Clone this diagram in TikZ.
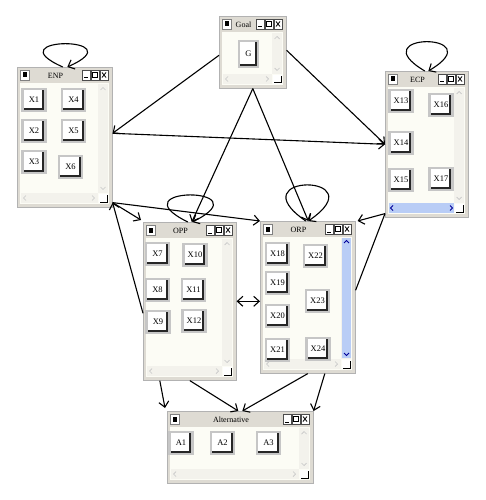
\documentclass[tikz,border=0pt]{standalone}
\usepackage{fontspec}
\setmainfont{Liberation Serif}
\usetikzlibrary{calc, arrows.meta, positioning}
\definecolor{winframe}{HTML}{DEDBD3}
\definecolor{winclient}{HTML}{FCFCF5}
\definecolor{wintrack}{HTML}{F3F2EC}
\definecolor{winblue}{HTML}{B9CDF6}
\tikzset{
    win box/.style = {rectangle, draw=gray!60, fill=winframe, anchor=north west, inner sep=0pt, line width=0.6pt},
    win title/.style = {font=\fontsize{8}{9}\selectfont, inner sep=0pt},
    key box/.style = {rectangle, fill=white, draw=gray!45, line width=2.5pt, minimum width=23pt, minimum height=22pt, inner sep=0pt, font=\fontsize{8.5}{9}\selectfont,
        path picture={\draw[line width=6.5pt, black!85] (path picture bounding box.north east) -- (path picture bounding box.south east) -- (path picture bounding box.south west);}},
    chevron/.style = {draw=gray!45, line width=0.7pt},
    blue chevron/.style = {draw=blue!60!black, line width=0.9pt},
    link/.style = {line width=1.1pt, -{Straight Barb[length=5.5pt, width=10pt]}},
    both link/.style = {line width=1.1pt, {Straight Barb[length=5.5pt, width=10pt]}-{Straight Barb[length=5.5pt, width=10pt]}},
    plain link/.style = {line width=1.1pt}
}

% one window: name, left, top, width, height, title
\newcommand{\appwin}[6]{%
    \node[win box, minimum width=#4pt, minimum height=#5pt] (#1) at (#2,#3) {};
    \fill[winclient] ({#2+3},{#3+16}) rectangle ({#2+#4-3},{#3+#5-3});
    \fill[wintrack] ({#2+#4-14},{#3+17}) rectangle ({#2+#4-4},{#3+#5-14});
    \fill[wintrack] ({#2+4},{#3+#5-14}) rectangle ({#2+#4-14},{#3+#5-4});
    \draw[chevron] ({#2+#4-11.5},{#3+23}) -- ({#2+#4-9},{#3+20.5}) -- ({#2+#4-6.5},{#3+23});
    \draw[chevron] ({#2+#4-11.5},{#3+#5-20}) -- ({#2+#4-9},{#3+#5-17.5}) -- ({#2+#4-6.5},{#3+#5-20});
    \draw[chevron] ({#2+9},{#3+#5-11.5}) -- ({#2+6.5},{#3+#5-9}) -- ({#2+9},{#3+#5-6.5});
    \draw[chevron] ({#2+#4-20},{#3+#5-11.5}) -- ({#2+#4-17.5},{#3+#5-9}) -- ({#2+#4-20},{#3+#5-6.5});
    \fill[white] ({#2+#4-13},{#3+#5-13}) rectangle ({#2+#4-4},{#3+#5-4});
    \draw[line width=1pt] ({#2+#4-5},{#3+#5-12}) -- ({#2+#4-5},{#3+#5-5}) -- ({#2+#4-12},{#3+#5-5});
    \draw[fill=white, draw=gray] ({#2+3},{#3+3}) rectangle ({#2+12},{#3+13});
    \fill ({#2+5.5},{#3+5.5}) rectangle ({#2+9.5},{#3+10.5});
    \foreach \k in {0,1,2}
        \draw[fill=white, draw=black!70, line width=0.5pt] ({#2+#4-30+9*\k},{#3+3}) rectangle ({#2+#4-22+9*\k},{#3+13});
    \draw[line width=1pt] ({#2+#4-28},{#3+11}) -- ({#2+#4-24},{#3+11});
    \draw[line width=0.6pt] ({#2+#4-19.5},{#3+5.5}) rectangle ({#2+#4-14.5},{#3+10.5});
    \draw[line width=1pt] ({#2+#4-19.5},{#3+5.5}) -- ({#2+#4-14.5},{#3+5.5});
    \draw[line width=0.8pt] ({#2+#4-10},{#3+5.5}) -- ({#2+#4-6},{#3+10.5}) ({#2+#4-6},{#3+5.5}) -- ({#2+#4-10},{#3+10.5});
    \node[win title] (#1 title) at ({#2+(#4-18)/2}, {#3+8.5}) {#6};
}

\begin{document}
\begin{tikzpicture}[x=1pt, y=-1pt]
    \fill[white] (0,0) rectangle (485,500);
    \useasboundingbox (0,0) rectangle (485,500);

    % windows
    \appwin{goal}{219}{16}{67}{72}{Goal}
    \appwin{enp}{17}{67}{95}{140}{ENP}
    \appwin{ecp}{385}{71}{83}{146}{ECP}
    \appwin{opp}{143}{222}{93}{158}{OPP}
    \appwin{orp}{260}{221}{95}{152}{ORP}
    \appwin{alt}{167}{411}{146}{72}{Alternative}

    % blue scroll bars
    \fill[winblue] (389,203) rectangle (454,213);
    \draw[blue chevron] (393,205.5) -- (390.5,208) -- (393,210.5);
    \draw[blue chevron] (450,205.5) -- (452.5,208) -- (450,210.5);
    \fill[winblue] (342,238) rectangle (351,358);
    \draw[blue chevron] (344,243) -- (346.5,240.5) -- (349,243);
    \draw[blue chevron] (344,353) -- (346.5,355.5) -- (349,353);

    % keys
    \node[key box, minimum width=19pt, minimum height=26pt] (g) at (248.5,54) {G};
    \node[key box] (x1) at (34,100) {X1};
    \node[key box] (x4) at (73.5,100) {X4};
    \node[key box] (x2) at (34,131) {X2};
    \node[key box] (x5) at (73.5,131) {X5};
    \node[key box] (x3) at (34,162) {X3};
    \node[key box] (x6) at (70.5,167) {X6};
    \node[key box] (x13) at (401,101) {X13};
    \node[key box] (x16) at (441,105) {X16};
    \node[key box] (x14) at (401,143) {X14};
    \node[key box] (x15) at (401,180) {X15};
    \node[key box] (x17) at (441,179) {X17};
    \node[key box] (x7) at (157.5,254) {X7};
    \node[key box] (x10) at (195,255) {X10};
    \node[key box] (x8) at (157.5,290) {X8};
    \node[key box] (x11) at (193.5,290) {X11};
    \node[key box] (x9) at (158,322) {X9};
    \node[key box] (x12) at (194,321) {X12};
    \node[key box] (x18) at (277.5,254) {X18};
    \node[key box] (x22) at (315.5,256) {X22};
    \node[key box] (x19) at (277.5,283) {X19};
    \node[key box] (x23) at (317.5,301) {X23};
    \node[key box] (x20) at (277.5,316) {X20};
    \node[key box] (x21) at (277.5,350) {X21};
    \node[key box] (x24) at (318,349) {X24};
    \node[key box] (a1) at (181,443) {A1};
    \node[key box] (a2) at (222.5,443) {A2};
    \node[key box] (a3) at (268.5,443) {A3};

    % self loops
    \draw[link] ([shift={(-2,0)}]enp.north) .. controls +(-70,-31) and +(70,-31) .. ([shift={(2.5,0)}]enp.north);
    \draw[link] ([shift={(-2,0)}]ecp.north) .. controls +(-66,-39) and +(66,-39) .. ([shift={(1.5,0)}]ecp.north);
    \draw[link] ([shift={(-2,0)}]opp.north) .. controls +(-73,-36) and +(73,-36) .. ([shift={(2.5,0)}]opp.north);
    \draw[link] ([shift={(-2,0)}]orp.north) .. controls +(-70,-48) and +(70,-48) .. ([shift={(0.5,0)}]orp.north);

    % links
    \coordinate (enp hub) at ([shift={(0,-5)}]enp.south east);
    \coordinate (ecp hub) at ([shift={(0,-4)}]ecp.south west);
    \draw[link] ([shift={(0,3)}]goal.west) -- ([shift={(0,-4)}]enp.east);
    \draw[link] ([shift={(0,-2)}]goal.east) -- (ecp.west);
    \draw[link] ([shift={(0,-4)}]enp.east) -- (ecp.west);
    \draw[link] (goal.south) -- ([shift={(2,0)}]opp.north);
    \draw[link] (goal.south) -- ([shift={(0.5,0)}]orp.north);
    \draw[link] (enp hub) -- (orp.north west);
    \draw[link] (enp hub) -- ([shift={(-2,-2)}]opp.north west);
    \draw[link] ([shift={(0,12)}]opp.west) -- (enp hub);
    \draw[link] (ecp hub) -- ([shift={(2,0)}]orp.north east);
    \draw[plain link] (ecp hub) -- ([shift={(0,-7)}]orp.east);
    \draw[both link] (opp.east) -- (orp.west |- opp.east);
    \draw[link] ([shift={(-30,0)}]opp.south) -- ([shift={(-2,-3)}]alt.north west);
    \draw[link] (opp.south) -- ([shift={(-2,0)}]alt.north);
    \draw[link] (orp.south) -- ([shift={(2,0)}]alt.north);
    \draw[link] ([shift={(17,0)}]orp.south) -- (alt.north east);
\end{tikzpicture}
\end{document}
